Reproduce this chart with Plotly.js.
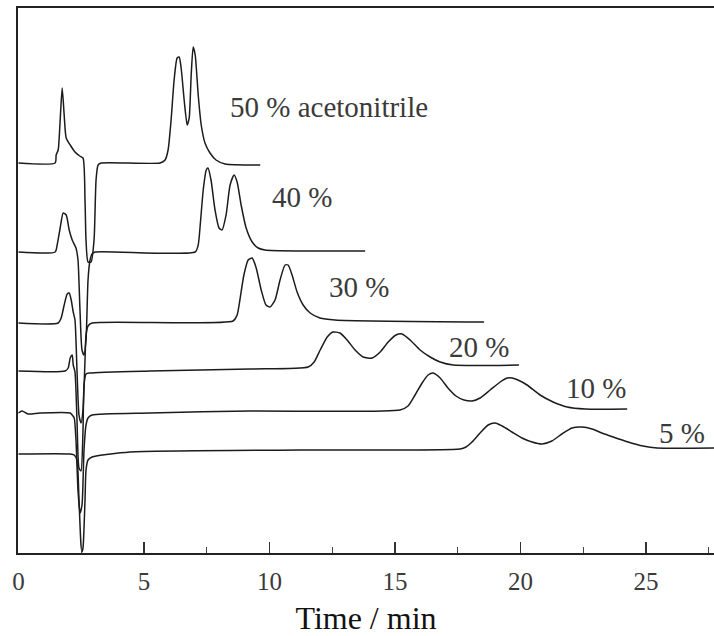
<!DOCTYPE html>
<html>
<head>
<meta charset="utf-8">
<script src="https://cdn.plot.ly/plotly-3.0.1.min.js"></script>
<style>html,body{margin:0;padding:0;background:#fff;}#chart{width:714px;height:636px;}</style>
</head>
<body>
<div id="chart"></div>
<script>
// Retention time (min) and stacked detector signal (arbitrary units, offset per trace)
const t50 = [0, 1.46, 1.50, 1.58, 1.66, 1.74, 1.82, 1.90, 2.06, 2.25, 2.44, 2.57, 2.65, 2.69, 2.77, 2.89, 3.01, 3.09, 3.17, 3.29, 5.64, 5.84, 5.96, 6.08, 6.20, 6.32, 6.40, 6.48, 6.60, 6.72, 6.80, 6.88, 6.96, 7.04, 7.16, 7.28, 7.43, 7.63, 7.87, 8.23, 9.63];
const s50 = [390, 390, 398, 403, 433, 465, 438, 415, 408, 401, 397, 395, 353, 313, 291, 291, 313, 373, 388, 390, 390, 393, 403, 433, 473, 495, 496, 485, 453, 428, 435, 478, 506, 498, 458, 428, 410, 400, 393, 389, 388];

const t40 = [0, 1.46, 1.54, 1.66, 1.78, 1.90, 2.02, 2.14, 2.29, 2.37, 2.45, 2.53, 2.61, 2.69, 2.77, 2.85, 2.93, 3.05, 7.04, 7.16, 7.24, 7.36, 7.48, 7.55, 7.67, 7.83, 7.99, 8.11, 8.27, 8.43, 8.59, 8.71, 8.87, 9.07, 9.31, 9.55, 9.82, 11.22, 13.81];
const s40 = [301, 301, 308, 325, 340, 338, 323, 313, 305, 293, 243, 203, 198, 213, 273, 293, 299, 301, 301, 308, 328, 363, 383, 385, 373, 343, 325, 323, 338, 368, 378, 371, 348, 325, 311, 305, 303, 302, 302];

const t30 = [0, 1.58, 1.70, 1.82, 1.94, 2.02, 2.10, 2.18, 2.25, 2.33, 2.41, 2.49, 2.57, 2.65, 2.69, 2.77, 2.93, 8.55, 8.71, 8.82, 8.98, 9.15, 9.31, 9.47, 9.67, 9.86, 10.02, 10.22, 10.42, 10.62, 10.74, 10.90, 11.10, 11.34, 11.62, 12.01, 12.61, 18.55];
const s30 = [230, 230, 235, 248, 259, 260, 253, 241, 233, 183, 138, 130, 143, 193, 218, 227, 230, 232, 238, 253, 278, 293, 295, 285, 263, 248, 246, 253, 273, 288, 288, 278, 261, 248, 240, 235, 233, 231];

const t20 = [0, 1.86, 1.98, 2.06, 2.14, 2.18, 2.25, 2.33, 2.41, 2.49, 2.57, 2.61, 2.69, 2.85, 5.24, 9.23, 11.54, 11.78, 12.02, 12.30, 12.53, 12.81, 13.09, 13.41, 13.73, 14.09, 14.41, 14.73, 15.04, 15.28, 15.60, 16.00, 16.40, 16.80, 17.32, 19.94];
const s20 = [182, 182, 185, 195, 198, 188, 181, 133, 85, 82, 123, 168, 179, 180, 182, 184, 186, 191, 203, 216, 221, 220, 213, 203, 196, 195, 201, 211, 218, 219, 213, 203, 196, 191, 188, 188];

const t10 = [0, 0.14, 0.38, 0.86, 2.06, 2.14, 2.22, 2.29, 2.37, 2.45, 2.53, 2.61, 2.69, 2.77, 2.93, 5.24, 9.23, 15.20, 15.52, 15.80, 16.08, 16.32, 16.52, 16.80, 17.11, 17.43, 17.75, 18.07, 18.39, 18.79, 19.19, 19.47, 19.67, 19.90, 20.26, 20.78, 21.30, 21.86, 22.58, 24.25];
const s10 = [140, 142, 139, 140, 140, 138, 135, 113, 63, 40, 48, 103, 128, 135, 138, 140, 142, 143, 147, 158, 170, 178, 180, 175, 165, 157, 153, 152, 155, 163, 171, 175, 175, 173, 168, 158, 151, 146, 144, 144];

const t5 = [0, 2.06, 2.22, 2.33, 2.41, 2.49, 2.53, 2.57, 2.65, 2.69, 2.77, 2.93, 4.45, 11.22, 17.59, 17.83, 18.07, 18.39, 18.71, 18.99, 19.27, 19.66, 20.06, 20.46, 20.86, 21.25, 21.65, 22.05, 22.45, 22.85, 23.24, 23.69, 24.29, 24.88, 25.44, 27.71];
const s5 = [99, 99, 98, 93, 53, 8, 1, 5, 53, 83, 93, 96, 101, 103, 104, 106, 111, 120, 128, 130, 127, 121, 115, 111, 109, 112, 119, 125, 126, 124, 120, 116, 111, 107, 105, 105];

const labels = ["50 % acetonitrile", "40 %", "30 %", "20 %", "10 %", "5 %"];
const labelX = [12.37, 11.30, 13.57, 18.35, 23.01, 26.44];
const labelY = [446, 356, 266, 206, 165, 120];

const tickVals = [0, 5, 10, 15, 20, 25];
const tickText = ["0", "5", "10", "15", "20", "25"];

const series = [[t50, s50], [t40, s40], [t30, s30], [t20, s20], [t10, s10], [t5, s5]];
const lineColor = "#1c1c1c";
const serif = "Liberation Serif, Times New Roman, serif";

const data = series.map(function (s, i) {
  return {
    x: s[0], y: s[1], type: "scatter", mode: "lines", name: labels[i],
    line: {color: lineColor, width: 1.5, shape: "spline", smoothing: 0.6},
    hoverinfo: "skip", showlegend: false, cliponaxis: true
  };
});

const annotations = labels.map(function (txt, i) {
  return {
    x: labelX[i], y: labelY[i], xref: "x", yref: "y", text: txt, showarrow: false,
    xanchor: "center", yanchor: "middle",
    font: {family: serif, size: 29, color: "#3a3a3a"}
  };
});

const layout = {
  width: 714, height: 636,
  margin: {l: 18, r: 0, t: 8, b: 83},
  paper_bgcolor: "#fff", plot_bgcolor: "#fff",
  showlegend: false,
  xaxis: {
    range: [-0.02, 27.71],
    showgrid: false, zeroline: false,
    showline: true, linecolor: "#222", linewidth: 2, mirror: true,
    ticks: "inside", ticklen: 11, tickwidth: 1.5, tickcolor: "#333",
    tickvals: tickVals, ticktext: tickText,
    minor: {dtick: 2.5, tick0: 0, ticks: "inside", ticklen: 6, tickwidth: 1.2, tickcolor: "#444"},
    tickfont: {family: serif, size: 25, color: "#3a3a3a"},
    ticklabelstandoff: 5,
    title: {text: "Time / min", font: {family: serif, size: 32, color: "#111"}, standoff: 14}
  },
  yaxis: {
    range: [0, 545],
    showgrid: false, zeroline: false,
    showline: true, linecolor: "#222", linewidth: 2,
    ticks: "", showticklabels: false
  },
  annotations: annotations
};

Plotly.newPlot("chart", data, layout, {displayModeBar: false, staticPlot: true});
</script>
</body>
</html>
